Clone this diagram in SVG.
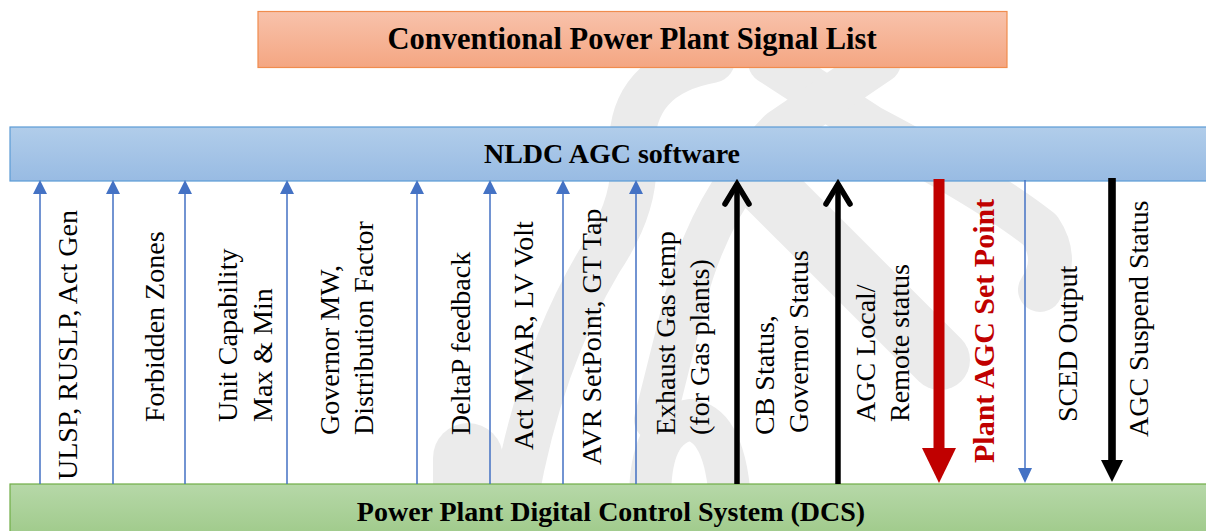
<svg xmlns="http://www.w3.org/2000/svg" width="1206" height="531" viewBox="0 0 1206 531">
<defs>
<linearGradient id="gTitle" x1="0" y1="0" x2="0" y2="1"><stop offset="0" stop-color="#f8c2ab"/><stop offset="1" stop-color="#f4a682"/></linearGradient>
<linearGradient id="gBlue" x1="0" y1="0" x2="0" y2="1"><stop offset="0" stop-color="#b1cdea"/><stop offset="1" stop-color="#98bbe3"/></linearGradient>
<linearGradient id="gGreen" x1="0" y1="0" x2="0" y2="1"><stop offset="0" stop-color="#b6d8a8"/><stop offset="1" stop-color="#9cc886"/></linearGradient>
<style>
.wm{fill:none;stroke:#ebebeb;stroke-linecap:round;stroke-linejoin:round}
.lbl{font-family:"Liberation Serif","Times New Roman",serif;font-size:28px;fill:#000}
.hdr{font-family:"Liberation Serif","Times New Roman",serif;font-size:28px;font-weight:bold;fill:#000;text-anchor:middle}
.thin{stroke:#4472c4;stroke-width:1.5;fill:none}
.thinhead{fill:#4472c4}
.blk{stroke:#000;stroke-width:5.5;fill:none}
.chev{stroke:#000;stroke-width:5.5;fill:none;stroke-linecap:round;stroke-linejoin:miter}
</style>
</defs>
<rect width="1206" height="531" fill="#fff"/>
<g id="watermark">
<path class="wm" stroke-width="46" d="M 712 60 Q 630 75 632 150 Q 640 200 600 260 Q 540 360 515 500"/>
<path class="wm" stroke-width="44" d="M 770 62 L 870 127 Q 990 190 1040 230 Q 1060 260 1040 290"/>
<path class="wm" stroke-width="42" d="M 880 62 L 780 130 Q 710 200 685 300 Q 665 380 655 420"/>
<path class="wm" stroke-width="60" d="M 760 180 L 940 360"/>
<path class="wm" stroke-width="70" d="M 468 458 L 468 540"/>
<path class="wm" stroke-width="42" d="M 650 500 Q 650 425 690 420 Q 725 425 730 500"/>
</g>
<g id="title">
<rect x="258" y="11.5" width="749" height="56" fill="url(#gTitle)" stroke="#f08c4e" stroke-width="1.2"/>
<text x="632" y="49" style="font-family:'Liberation Serif','Times New Roman',serif;font-size:30.5px;font-weight:bold;text-anchor:middle">Conventional Power Plant Signal List</text>
</g>
<g id="nldc">
<rect x="10" y="127" width="1210" height="54" fill="url(#gBlue)" stroke="#5b9bd5" stroke-width="1.2"/>
<text class="hdr" x="612" y="163">NLDC AGC software</text>
</g>
<g id="dcs">
<rect x="10" y="484" width="1210" height="60" fill="url(#gGreen)" stroke="#70ad47" stroke-width="1.2"/>
<text class="hdr" x="611" y="521">Power Plant Digital Control System (DCS)</text>
</g>
<g id="connectors">
<g id="up-thin">
<path class="thin" d="M40 484V192M113 484V192M185 484V192M287 484V192M417 484V192M490 484V192M563 484V192M636 484V192"/>
<path class="thinhead" d="M33 194L47 194L40 180ZM106 194L120 194L113 180ZM178 194L192 194L185 180ZM280 194L294 194L287 180ZM410 194L424 194L417 180ZM483 194L497 194L490 180ZM556 194L570 194L563 180ZM629 194L643 194L636 180Z"/>
</g>
<g id="up-black">
<path class="blk" d="M737 484V186M838 484V186"/>
<path class="chev" d="M725 204L737 184L749 204M826 204L838 184L850 204"/>
</g>
<g id="down-red">
<rect x="933.5" y="179" width="11" height="271" fill="#c00000"/>
<path d="M922 448L956 448L939 483Z" fill="#c00000"/>
</g>
<g id="down-sced">
<path class="thin" d="M1025 180V470"/>
<path class="thinhead" d="M1018 468L1032 468L1025 483Z"/>
</g>
<g id="down-black">
<rect x="1108.2" y="178" width="7.6" height="284" fill="#000"/>
<path d="M1101 460L1123 460L1112 482Z" fill="#000"/>
</g>
</g>
<g id="labels">
<g id="l1"><text class="lbl" transform="translate(77,480) rotate(-90)">ULSP, RUSLP, Act Gen</text></g>
<g id="l2"><text class="lbl" transform="translate(164,422) rotate(-90)">Forbidden Zones</text></g>
<g id="l3"><text class="lbl" transform="translate(237,422) rotate(-90)">Unit Capability</text><text class="lbl" transform="translate(272,422) rotate(-90)">Max &amp; Min</text></g>
<g id="l4"><text class="lbl" transform="translate(339,435) rotate(-90)">Governor MW,</text><text class="lbl" transform="translate(373,435) rotate(-90)">Distribution Factor</text></g>
<g id="l5"><text class="lbl" transform="translate(470,435) rotate(-90)">DeltaP feedback</text></g>
<g id="l6"><text class="lbl" transform="translate(533,450) rotate(-90)">Act MVAR, LV Volt</text></g>
<g id="l7"><text class="lbl" transform="translate(601,465) rotate(-90)">AVR SetPoint, GT Tap</text></g>
<g id="l8"><text class="lbl" transform="translate(675,435) rotate(-90)">Exhaust Gas temp</text><text class="lbl" transform="translate(709,435) rotate(-90)">(for Gas plants)</text></g>
<g id="l9"><text class="lbl" transform="translate(774,435) rotate(-90)">CB Status,</text><text class="lbl" transform="translate(808,433) rotate(-90)">Governor Status</text></g>
<g id="l10"><text class="lbl" transform="translate(875,422) rotate(-90)">AGC Local/</text><text class="lbl" transform="translate(909,422) rotate(-90)">Remote status</text></g>
<g id="l11"><text class="lbl" transform="translate(994,463) rotate(-90)" style="font-weight:bold;fill:#c00000;font-size:30px">Plant AGC Set Point</text></g>
<g id="l12"><text class="lbl" transform="translate(1077,422) rotate(-90)">SCED Output</text></g>
<g id="l13"><text class="lbl" transform="translate(1148,437) rotate(-90)">AGC Suspend Status</text></g>
</g>
</svg>
